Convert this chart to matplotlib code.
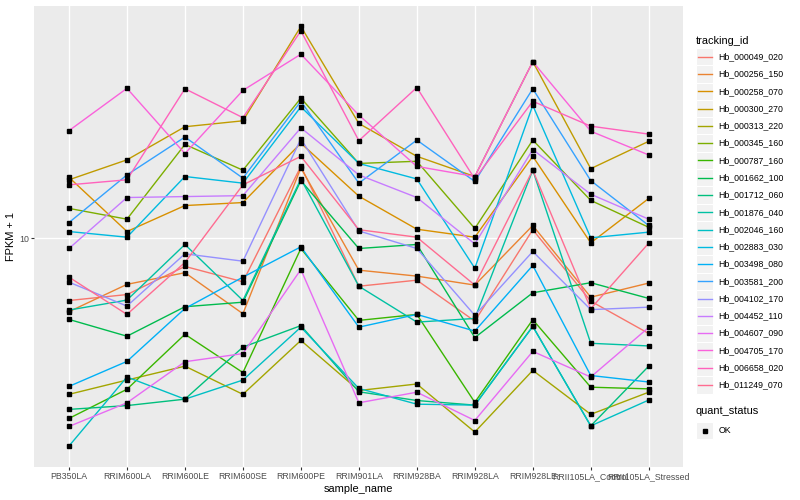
import matplotlib
matplotlib.use('Agg')
import matplotlib.pyplot as plt
from matplotlib.lines import Line2D
from matplotlib.patches import Rectangle
from matplotlib.ticker import NullLocator

plt.rcParams['font.family'] = ['Liberation Sans', 'DejaVu Sans']

# Campioni (asse x)
samples = ['PB350LA', 'RRIM600LA', 'RRIM600LE', 'RRIM600SE', 'RRIM600PE',
           'RRIM901LA', 'RRIM928BA', 'RRIM928LA', 'RRIM928LE',
           'RRII105LA_Control', 'RRII105LA_Stressed']

# FPKM + 1 per ogni gene
hb_000049_020 = [6.21, 6.50, 8.07, 7.17, 17.4, 6.93, 7.26, 5.30, 10.7, 6.18, 4.82]
hb_000256_150 = [5.70, 7.03, 7.69, 5.61, 17.2, 7.84, 7.49, 6.99, 11.05, 6.37, 7.10]
hb_000258_070 = [16.0, 10.55, 12.88, 13.18, 20.8, 13.84, 10.74, 10.1, 18.8, 9.67, 13.6]
hb_000300_270 = [15.7, 18.3, 23.6, 24.7, 51.0, 24.2, 18.8, 16.1, 38.9, 17.1, 21.1]
hb_000313_220 = [3.02, 3.37, 3.75, 3.02, 4.57, 3.11, 3.27, 2.26, 3.63, 2.59, 3.07]
hb_000345_160 = [12.6, 11.6, 20.6, 16.9, 29.4, 17.8, 18.1, 10.8, 21.3, 13.4, 10.9]
hb_000787_160 = [2.51, 3.14, 4.79, 3.57, 9.26, 5.33, 5.58, 2.84, 5.36, 3.19, 3.15]
hb_001662_100 = [5.37, 4.72, 5.92, 6.13, 15.6, 9.26, 9.55, 4.67, 6.59, 7.12, 6.31]
hb_001712_060 = [2.69, 2.77, 2.91, 4.34, 5.12, 3.08, 2.88, 2.78, 5.09, 2.37, 3.75]
hb_001876_040 = [5.77, 6.23, 9.55, 6.21, 15.8, 6.93, 5.26, 5.41, 16.9, 4.47, 4.38]
hb_002046_160 = [2.03, 3.45, 2.91, 3.37, 5.06, 3.16, 2.80, 2.78, 5.09, 2.37, 2.89]
hb_002883_030 = [10.55, 10.1, 16.1, 15.3, 27.5, 17.8, 15.8, 7.96, 27.8, 10.05, 10.5]
hb_003498_080 = [3.21, 3.89, 5.84, 7.43, 9.38, 5.06, 5.58, 4.91, 8.13, 3.49, 3.32]
hb_003581_200 = [11.3, 16.3, 21.8, 15.9, 28.7, 15.3, 21.3, 15.5, 31.6, 15.6, 11.05]
hb_004102_170 = [7.15, 5.95, 8.89, 8.40, 21.5, 10.6, 9.26, 5.54, 9.05, 5.79, 5.90]
hb_004452_110 = [9.26, 13.7, 13.8, 13.9, 23.4, 16.3, 13.7, 9.59, 19.8, 14.05, 11.6]
hb_004607_090 = [2.36, 2.83, 3.88, 4.13, 7.88, 2.83, 3.07, 2.47, 4.20, 3.45, 5.05]
hb_004705_170 = [22.9, 31.7, 19.2, 31.2, 41.2, 25.8, 17.4, 16.1, 38.9, 22.8, 19.0]
hb_006658_020 = [15.1, 15.7, 31.6, 25.3, 49.3, 21.2, 31.9, 15.8, 28.7, 23.7, 22.3]
hb_011249_070 = [7.43, 5.58, 8.32, 15.1, 18.8, 10.7, 10.1, 6.99, 16.9, 5.83, 9.65]

tracking_ids = ['Hb_000049_020', 'Hb_000256_150', 'Hb_000258_070', 'Hb_000300_270',
                'Hb_000313_220', 'Hb_000345_160', 'Hb_000787_160', 'Hb_001662_100',
                'Hb_001712_060', 'Hb_001876_040', 'Hb_002046_160', 'Hb_002883_030',
                'Hb_003498_080', 'Hb_003581_200', 'Hb_004102_170', 'Hb_004452_110',
                'Hb_004607_090', 'Hb_004705_170', 'Hb_006658_020', 'Hb_011249_070']

series = [hb_000049_020, hb_000256_150, hb_000258_070, hb_000300_270,
          hb_000313_220, hb_000345_160, hb_000787_160, hb_001662_100,
          hb_001712_060, hb_001876_040, hb_002046_160, hb_002883_030,
          hb_003498_080, hb_003581_200, hb_004102_170, hb_004452_110,
          hb_004607_090, hb_004705_170, hb_006658_020, hb_011249_070]

# palette ggplot (hue_pal, 20 livelli)
colours = ['#F8766D', '#EA8331', '#D89000', '#C09B00', '#A3A500', '#7CAE00',
           '#39B600', '#00BB4E', '#00BF7D', '#00C1A3', '#00BFC4', '#00BAE0',
           '#00B0F6', '#35A2FF', '#9590FF', '#C77CFF', '#E76BF3', '#FA62DB',
           '#FF62BC', '#FF6C91']

W, H = 800, 500


def fx(px):
    return px / W


def fy(py):
    return 1 - py / H


def draw_legend(fig):
    # legenda tracking_id (disegnata a mano, stile ggplot)
    x0 = 696
    ks = 17.28
    fig.text(fx(x0), fy(40.7), 'tracking_id', fontsize=7.9, va='center', ha='left')
    for i, (tid, c) in enumerate(zip(tracking_ids, colours)):
        yc = 56.7 + i * ks
        fig.add_artist(Rectangle((fx(x0), fy(yc + ks / 2)), ks / W, ks / H,
                                 transform=fig.transFigure, facecolor='#F2F2F2',
                                 edgecolor='white', lw=0.8))
        fig.add_artist(Line2D([fx(x0 + 0.1 * ks), fx(x0 + 0.9 * ks)], [fy(yc), fy(yc)],
                              transform=fig.transFigure, color=c, lw=1.0))
        fig.text(fx(x0 + ks + 5), fy(yc), tid, fontsize=6.3, va='center', ha='left')

    # legenda quant_status
    fig.text(fx(x0), fy(411.5), 'quant_status', fontsize=7.9, va='center', ha='left')
    yc = 430.5
    fig.add_artist(Rectangle((fx(x0), fy(yc + ks / 2)), ks / W, ks / H,
                             transform=fig.transFigure, facecolor='#F2F2F2',
                             edgecolor='white', lw=0.8))
    fig.add_artist(Line2D([fx(x0 + ks / 2)], [fy(yc)], transform=fig.transFigure,
                          marker='s', color='black', ms=2.3, lw=0))
    fig.text(fx(x0 + ks + 5), fy(yc), 'OK', fontsize=6.3, va='center', ha='left')


def expression_plot():

    fig = plt.figure(figsize=(W / 100, H / 100), dpi=100)
    left, right, top, bottom = 34.2, 683.5, 5.5, 467.0
    ax = fig.add_axes([fx(left), fy(bottom), (right - left) / W, (bottom - top) / H])

    x = list(range(len(samples)))

    # linee poi punti
    for vals, c in zip(series, colours):
        ax.plot(x, vals, '-', color=c, lw=1.0, zorder=2)
    for vals in series:
        ax.plot(x, vals, 's', color='black', ms=2.3, zorder=3)

    ax.set_yscale('log')
    ax.set_ylim(1.728, 59.9)
    ax.set_xlim(-0.6, len(samples) - 1 + 0.6)
    ax.set_yticks([10])
    ax.set_yticklabels(['10'])
    ax.yaxis.set_minor_locator(NullLocator())
    ax.set_xticks(x)
    ax.set_xticklabels(samples)

    ax.set_facecolor('#EBEBEB')
    ax.grid(True, color='white', lw=1.0)
    ax.set_axisbelow(True)
    for s in ax.spines.values():
        s.set_visible(False)
    ax.tick_params(length=2.0, width=0.8, color='#333333', labelsize=6.3,
                   labelcolor='#4D4D4D', pad=1.6)

    fig.text(fx((left + right) / 2), fy(489), 'sample_name', fontsize=7.9,
             ha='center', va='center')
    fig.text(fx(11), fy((top + bottom) / 2), 'FPKM + 1', fontsize=7.9,
             ha='center', va='center', rotation=90)

    draw_legend(fig)

    fig.savefig('out.png', dpi=100)


if __name__ == "__main__":

    expression_plot()
